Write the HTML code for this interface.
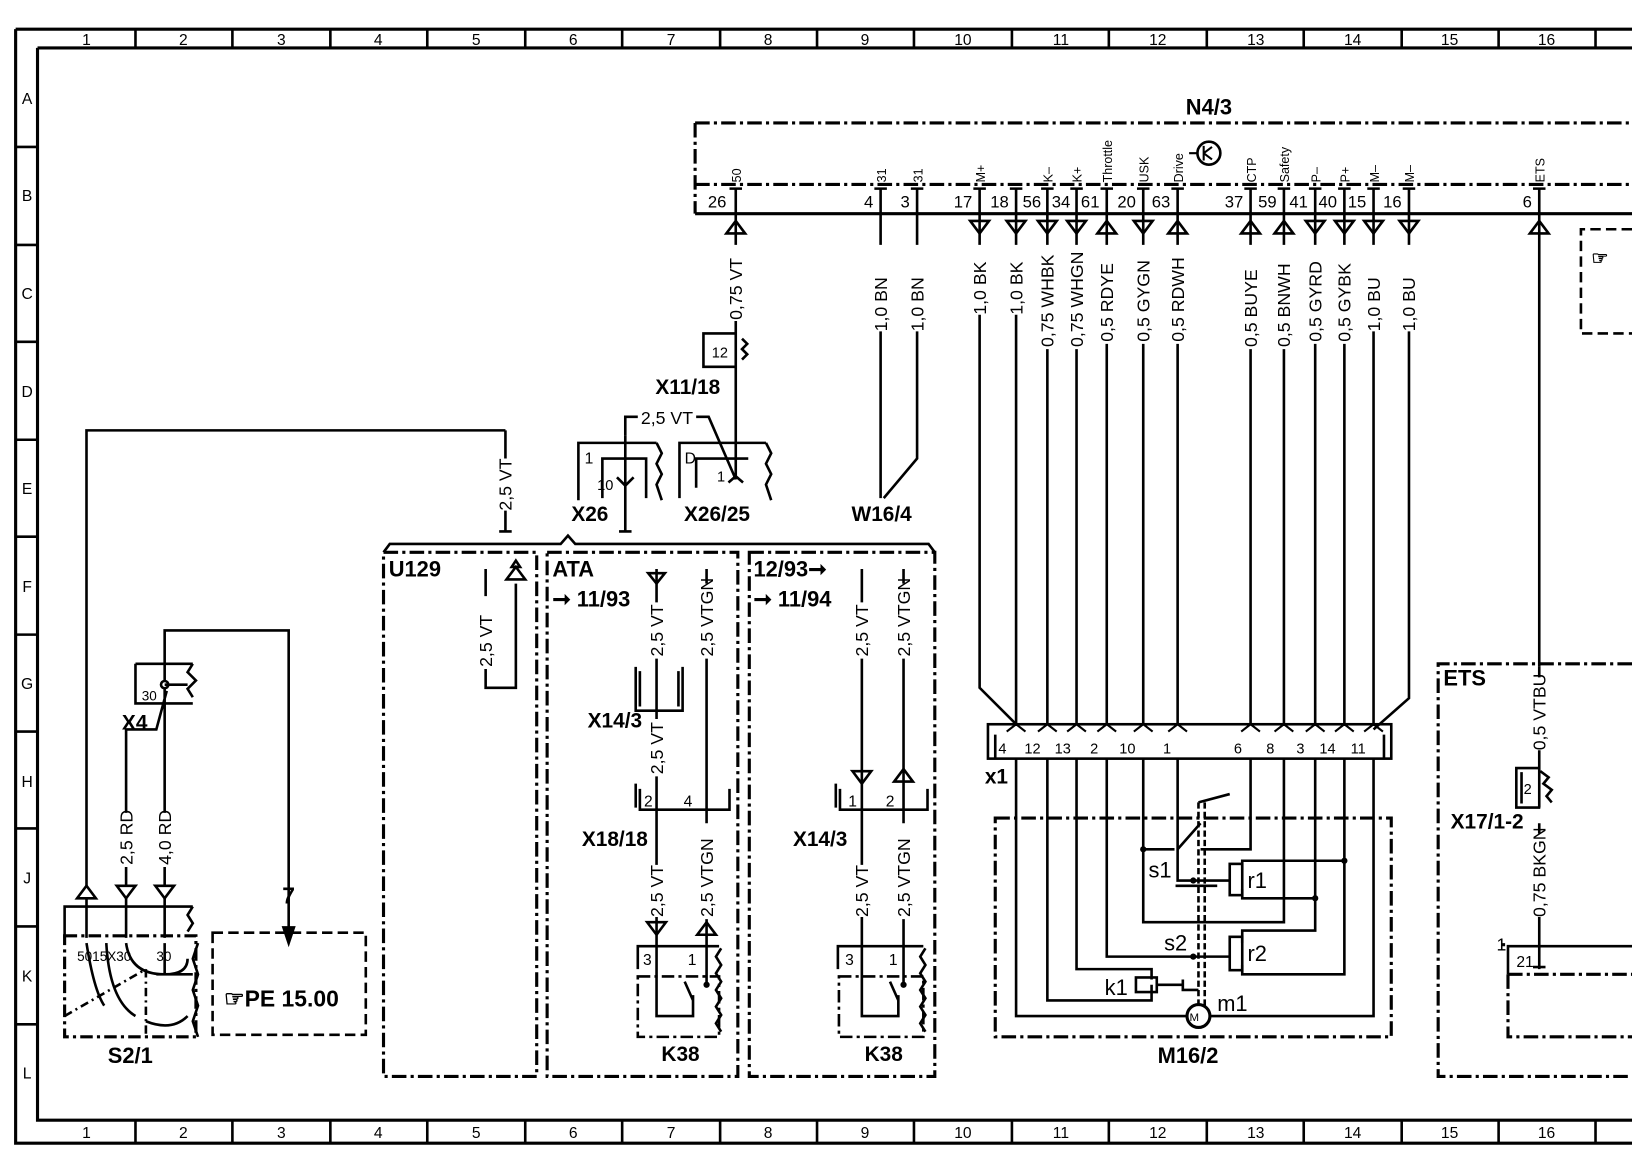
<!DOCTYPE html>
<html><head><meta charset="utf-8"><style>
html,body{margin:0;padding:0;background:#fff;width:1632px;height:1164px;overflow:hidden}
svg{display:block}
text{font-family:"Liberation Sans Narrow","Liberation Sans",sans-serif;fill:#000}
.b{font-weight:bold}
</style></head><body>
<svg width="1632" height="1164" viewBox="0 0 1566 1117" preserveAspectRatio="none" xmlns="http://www.w3.org/2000/svg">
<g fill="none" stroke="#000" stroke-width="2.5">
<path d="M15 28H1566M15 28V1097H1566M36 46H1566M36 46V1075H1566M15 1097H1566" stroke-width="3"/>
<path d="M130 28v18M223 28v18M317 28v18M410 28v18M504 28v18M597 28v18M691 28v18M784 28v18M877 28v18M971 28v18M1064 28v18M1158 28v18M1251 28v18M1345 28v18M1438 28v18M1531 28v18"/>
<path d="M130 1075v22M223 1075v22M317 1075v22M410 1075v22M504 1075v22M597 1075v22M691 1075v22M784 1075v22M877 1075v22M971 1075v22M1064 1075v22M1158 1075v22M1251 1075v22M1345 1075v22M1438 1075v22M1531 1075v22"/>
<path d="M15 141h21M15 235h21M15 328h21M15 422h21M15 515h21M15 609h21M15 702h21M15 795h21M15 889h21M15 983h21"/>
</g>
<g font-size="15" text-anchor="middle">
<text x="83" y="43">1</text><text x="176" y="43">2</text><text x="270" y="43">3</text><text x="363" y="43">4</text><text x="457" y="43">5</text><text x="550" y="43">6</text><text x="644" y="43">7</text><text x="737" y="43">8</text><text x="830" y="43">9</text><text x="924" y="43">10</text><text x="1018" y="43">11</text><text x="1111" y="43">12</text><text x="1205" y="43">13</text><text x="1298" y="43">14</text><text x="1391" y="43">15</text><text x="1484" y="43">16</text>
<text x="83" y="1092">1</text><text x="176" y="1092">2</text><text x="270" y="1092">3</text><text x="363" y="1092">4</text><text x="457" y="1092">5</text><text x="550" y="1092">6</text><text x="644" y="1092">7</text><text x="737" y="1092">8</text><text x="830" y="1092">9</text><text x="924" y="1092">10</text><text x="1018" y="1092">11</text><text x="1111" y="1092">12</text><text x="1205" y="1092">13</text><text x="1298" y="1092">14</text><text x="1391" y="1092">15</text><text x="1484" y="1092">16</text>
<text x="26" y="100">A</text><text x="26" y="193">B</text><text x="26" y="287">C</text><text x="26" y="381">D</text><text x="26" y="474">E</text><text x="26" y="568">F</text><text x="26" y="661">G</text><text x="26" y="755">H</text><text x="26" y="848">J</text><text x="26" y="942">K</text><text x="26" y="1035">L</text>
</g>

<g fill="none" stroke="#000" stroke-width="3">
<path d="M667 118H1566M667 177H1566M667 118V205" stroke-dasharray="14,4,3,4"/>
<path d="M667 205H1566"/>
<circle cx="1160" cy="147" r="11" stroke-width="2.5"/>
<path d="M1149 147h-8M1155 140v14M1155 147l8-6M1155 147l8 6" stroke-width="2"/>
</g>
<text x="1160" y="110" class="b" font-size="21" text-anchor="middle">N4/3</text>

<g stroke="#000" stroke-width="2.5" fill="none">
<path d="M700 181h12M706 181v24 M839 181h12M845 181v24 M874 181h12M880 181v24 M934 181h12M940 181v24 M969 181h12M975 181v24 M999 181h12M1005 181v24 M1027 181h12M1033 181v24 M1056 181h12M1062 181v24 M1091 181h12M1097 181v24 M1124 181h12M1130 181v24 M1194 181h12M1200 181v24 M1226 181h12M1232 181v24 M1256 181h12M1262 181v24 M1284 181h12M1290 181v24 M1312 181h12M1318 181v24 M1346 181h12M1352 181v24 M1471 181h12M1477 181v24"/>
<path d="M706 205V235 M845 205V235 M880 205V235 M940 205V235 M975 205V235 M1005 205V235 M1033 205V235 M1062 205V235 M1097 205V235 M1130 205V235 M1200 205V235 M1232 205V235 M1262 205V235 M1290 205V235 M1318 205V235 M1352 205V235 M1477 205V640"/>
<path d="M706 308V460 M845 318V478 M880 318V440L848 478 M940 302V660L975 695 M975 302V695 M1005 335V695 M1033 335V695 M1062 330V695 M1097 330V695 M1130 330V695 M1200 335V695 M1232 335V695 M1262 330V695 M1290 330V695 M1318 318V695 M1352 318V670L1318 700"/>
</g>
<g fill="none" stroke="#000" stroke-width="2.5">
<path d="M697 224l9-12 9 12z M1053 224l9-12 9 12z M1121 224l9-12 9 12z M1191 224l9-12 9 12z M1223 224l9-12 9 12z M1468 224l9-12 9 12z"/>
<path d="M931 212l9 12 9-12z M966 212l9 12 9-12z M996 212l9 12 9-12z M1024 212l9 12 9-12z M1088 212l9 12 9-12z M1253 212l9 12 9-12z M1281 212l9 12 9-12z M1309 212l9 12 9-12z M1343 212l9 12 9-12z"/>
</g>
<g font-size="16" text-anchor="end">
<text x="697" y="199">26</text><text x="838" y="199">4</text><text x="873" y="199">3</text><text x="933" y="199">17</text><text x="968" y="199">18</text><text x="999" y="199">56</text><text x="1027" y="199">34</text><text x="1055" y="199">61</text><text x="1090" y="199">20</text><text x="1123" y="199">63</text><text x="1193" y="199">37</text><text x="1225" y="199">59</text><text x="1255" y="199">41</text><text x="1283" y="199">40</text><text x="1311" y="199">15</text><text x="1345" y="199">16</text><text x="1470" y="199">6</text>
</g>
<g font-size="12">
<text transform="translate(711,175) rotate(-90)">50</text>
<text transform="translate(850,175) rotate(-90)">31</text>
<text transform="translate(885,175) rotate(-90)">31</text>
<text transform="translate(945,175) rotate(-90)">M+</text>
<text transform="translate(1010,175) rotate(-90)">K–</text>
<text transform="translate(1038,175) rotate(-90)">K+</text>
<text transform="translate(1067,175) rotate(-90)">Throttle</text>
<text transform="translate(1102,175) rotate(-90)">USK</text>
<text transform="translate(1135,175) rotate(-90)">Drive</text>
<text transform="translate(1205,175) rotate(-90)">CTP</text>
<text transform="translate(1237,175) rotate(-90)">Safety</text>
<text transform="translate(1267,175) rotate(-90)">P–</text>
<text transform="translate(1295,175) rotate(-90)">P+</text>
<text transform="translate(1323,175) rotate(-90)">M–</text>
<text transform="translate(1357,175) rotate(-90)">M–</text>
<text transform="translate(1482,175) rotate(-90)">ETS</text>
</g>
<g font-size="17">
<text transform="translate(712,307) rotate(-90)">0,75 VT</text>
<text transform="translate(851,318) rotate(-90)">1,0 BN</text>
<text transform="translate(886,318) rotate(-90)">1,0 BN</text>
<text transform="translate(946,302) rotate(-90)">1,0 BK</text>
<text transform="translate(981,302) rotate(-90)">1,0 BK</text>
<text transform="translate(1011,333) rotate(-90)">0,75 WHBK</text>
<text transform="translate(1039,333) rotate(-90)">0,75 WHGN</text>
<text transform="translate(1068,328) rotate(-90)">0,5 RDYE</text>
<text transform="translate(1103,328) rotate(-90)">0,5 GYGN</text>
<text transform="translate(1136,328) rotate(-90)">0,5 RDWH</text>
<text transform="translate(1206,333) rotate(-90)">0,5 BUYE</text>
<text transform="translate(1238,333) rotate(-90)">0,5 BNWH</text>
<text transform="translate(1268,328) rotate(-90)">0,5 GYRD</text>
<text transform="translate(1296,328) rotate(-90)">0,5 GYBK</text>
<text transform="translate(1324,318) rotate(-90)">1,0 BU</text>
<text transform="translate(1358,318) rotate(-90)">1,0 BU</text>
</g>

<path d="M1566 220H1517V320H1566" fill="none" stroke="#000" stroke-width="2.5" stroke-dasharray="10,5"/>
<text x="1527" y="254" font-size="18" class="b">☞</text>

<g fill="none" stroke="#000" stroke-width="2.5">
<path d="M705 320H675V352H705"/>
<path d="M712 325l5 5-5 5 5 5-5 5"/>
<path d="M600 418V400H612M668 400H680L706 460"/>
<path d="M600 418V510h-6M600 510h6"/>
<path d="M555 480V425H630M578 478V440H620V478M630 425l5 10-5 10 5 10-5 10 5 15"/>
<path d="M592 458l8 8 8-8" />
<path d="M652 478V425H735M668 468V440H718M735 425l5 10-5 10 5 10-5 10 5 15"/>
<path d="M699 463l7-6 7 6"/>
<path d="M485 413V440M485 490V510h-6M485 510h6M83 850V413H485"/>
</g>
<text x="683" y="343" font-size="14">12</text>
<text x="660" y="378" class="b" font-size="20" text-anchor="middle">X11/18</text>
<text x="640" y="407" font-size="17" text-anchor="middle">2,5  VT</text>
<text x="561" y="445" font-size="15">1</text><text x="573" y="470" font-size="14">10</text>
<text x="657" y="445" font-size="15">D</text><text x="688" y="462" font-size="14">1</text>
<text x="566" y="500" class="b" font-size="20" text-anchor="middle">X26</text>
<text x="688" y="500" class="b" font-size="20" text-anchor="middle">X26/25</text>
<text x="846" y="500" class="b" font-size="20" text-anchor="middle">W16/4</text>
<text transform="translate(491,490) rotate(-90)" font-size="17">2,5  VT</text>

<g fill="none" stroke="#000" stroke-width="2.5">
<path d="M368 530l6-8H538l7-8 7 8H891l6 8"/>
<g stroke-dasharray="14,4,3,4" stroke-width="3">
<rect x="368" y="530" width="147" height="503"/>
<rect x="525" y="530" width="183" height="503"/>
<rect x="719" y="530" width="178" height="503"/>
</g>
<!-- U129 -->
<path d="M466 546V572M466 642V660H495V560M486 556l9-12 9 12zM495 538l-4 6h8z"/>
<!-- ATA wires -->
<path d="M630 546V578M630 632V690M630 745V830M630 880V975H665V955M665 960l-8-18"/>
<path d="M622 550l8 10 8-10z"/>
<path d="M678 546V560M678 632V790M678 882V945"/>
<path d="M610 640V682H655V640M614 644V678M651 644V678"/>
<!-- 12/93 wires -->
<path d="M827 546V578M827 632V830M827 880V975H862V955M862 960l-8-18"/>
<path d="M867 546V560M867 632V790M867 882V945"/>
<path d="M818 740l9 12 9-12z M858 750l9-12 9 12z"/>
<path d="M614 757V777H700V757M610 752V775"/>
<path d="M806 757V777H890V757M802 752V775"/>
<path d="M621 885l9 12 9-12z M669 897l9-12 9 12z"/>
<path d="M612 930V908H690M804 930V908H886"/>
<g stroke-dasharray="12,4,3,4"><rect x="612" y="937" width="78" height="58"/><rect x="805" y="937" width="81" height="58"/></g>
<path d="M692 910l-5 8 5 8-5 8 5 8 -5 8 5 8-5 8 5 8-5 8 5 8"/>
<path d="M888 910l-5 8 5 8-5 8 5 8 -5 8 5 8-5 8 5 8-5 8 5 8"/>
</g>
<g fill="#000"><circle cx="678" cy="945" r="3"/><circle cx="867" cy="945" r="3"/></g>
<text x="373" y="553" class="b" font-size="21">U129</text>
<text x="530" y="553" class="b" font-size="21">ATA</text>
<text x="530" y="582" class="b" font-size="21">➞ 11/93</text>
<text x="723" y="553" class="b" font-size="21">12/93➞</text>
<text x="723" y="582" class="b" font-size="21">➞ 11/94</text>
<g font-size="17">
<text transform="translate(472,640) rotate(-90)">2,5  VT</text>
<text transform="translate(636,630) rotate(-90)">2,5  VT</text>
<text transform="translate(684,630) rotate(-90)">2,5  VTGN</text>
<text transform="translate(833,630) rotate(-90)">2,5  VT</text>
<text transform="translate(873,630) rotate(-90)">2,5  VTGN</text>
<text transform="translate(636,743) rotate(-90)">2,5  VT</text>
<text transform="translate(684,880) rotate(-90)">2,5  VTGN</text>
<text transform="translate(873,880) rotate(-90)">2,5  VTGN</text>
<text transform="translate(636,880) rotate(-90)">2,5  VT</text>
<text transform="translate(833,880) rotate(-90)">2,5  VT</text>
</g>
<g font-size="15"><text x="618" y="774">2</text><text x="656" y="774">4</text><text x="814" y="774">1</text><text x="850" y="774">2</text>
<text x="617" y="926">3</text><text x="660" y="926">1</text><text x="811" y="926">3</text><text x="853" y="926">1</text></g>
<g class="b" font-size="20" text-anchor="middle">
<text x="590" y="698">X14/3</text><text x="590" y="812">X18/18</text><text x="787" y="812">X14/3</text>
<text x="653" y="1018">K38</text><text x="848" y="1018">K38</text></g>

<g fill="none" stroke="#000" stroke-width="2.5">
<path d="M130 637H185M130 637V675H185M185 637l-5 8 8 8-8 8 5 8"/>
<circle cx="158" cy="657" r="3.5" fill="#fff"/>
<path d="M158 653V605H277V890M158 661V780M158 832V850M160 663L150 700H121V780M121 832V850M158 657H180"/>
<path d="M272 890l5 15 5-15z" fill="#000"/>
<path d="M74 862l9-12 9 12z M112 850l9 12 9-12z M149 850l9 12 9-12z"/>
<path d="M62 900V870H185M83 862V900M121 862V900M158 862V900M185 870l-5 8 5 8-5 8"/>
<path d="M190 905l-5 15 5 15-5 15 5 15-5 15 5 15"/>
<path d="M83 905Q90 950 100 965M102 905Q105 960 130 975M121 905Q125 935 158 935Q180 935 180 920M158 905V935M150 935H185M140 980Q165 990 180 975"/>
<path d="M62 975L140 930" stroke-dasharray="8,4,2,4"/>
<path d="M140 930V995" stroke-dasharray="8,4,2,4"/>
<rect x="62" y="898" width="126" height="97" stroke-dasharray="12,4,3,4" stroke-width="3"/>
<rect x="204" y="895" width="147" height="98" stroke-dasharray="10,5"/>
</g>
<text x="136" y="672" font-size="13">30</text>
<text x="117" y="700" class="b" font-size="20">X4</text>
<text transform="translate(127,830) rotate(-90)" font-size="17">2,5  RD</text>
<text transform="translate(164,830) rotate(-90)" font-size="17">4,0  RD</text>
<text x="277" y="867" class="b" font-size="22" text-anchor="middle">7</text>
<text x="74" y="922" font-size="13">5015X30</text><text x="150" y="922" font-size="13">30</text>
<text x="125" y="1020" class="b" font-size="21" text-anchor="middle">S2/1</text>
<text x="215" y="966" class="b" font-size="22">☞PE  15.00</text>

<g fill="none" stroke="#000" stroke-width="2.5">
<rect x="948" y="695" width="387" height="33"/>
<path d="M955 728V705M1328 728V705"/>
<path d="M966 702l9-7 9 7M996 702l9-7 9 7M1024 702l9-7 9 7M1053 702l9-7 9 7M1088 702l9-7 9 7M1121 702l9-7 9 7M1191 702l9-7 9 7M1223 702l9-7 9 7M1253 702l9-7 9 7M1281 702l9-7 9 7M1309 702l9-7 9 7" stroke-width="2"/>
<rect x="955" y="785" width="380" height="210" stroke-dasharray="14,4,3,4" stroke-width="3"/>
<path d="M975 728V975H1138M1162 975H1318V728"/>
<path d="M1005 728V960H1105V945"/>
<path d="M1033 728V930H1105V940"/>
<rect x="1090" y="938" width="20" height="14"/>
<path d="M1110 945h25M1135 940v10h15" />
<path d="M1062 728V918H1180"/>
<rect x="1180" y="899" width="12" height="32"/>
<path d="M1192 905V893H1262V728M1192 926V935H1290V728"/>
<path d="M1097 728V815H1127M1152 815H1200V728"/>
<path d="M1130 728V845H1180"/>
<rect x="1180" y="829" width="12" height="30"/>
<path d="M1192 835V826H1290M1192 853V862H1262"/>
<path d="M1097 815V885H1150H1232V728"/>
<path d="M1150 770V965M1156 770V965" stroke-dasharray="6,3"/>
<path d="M1150 770l30-8M1128 850h40M1130 815l22 -25"/>
<circle cx="1150" cy="975" r="11" stroke-width="3"/>
</g>
<g fill="#000"><circle cx="1097" cy="815" r="3"/><circle cx="1290" cy="826" r="3"/><circle cx="1262" cy="862" r="3"/><circle cx="1145" cy="845" r="3"/><circle cx="1145" cy="918" r="3"/></g>
<g font-size="14"><text x="958" y="723">4</text><text x="983" y="723">12</text><text x="1012" y="723">13</text><text x="1046" y="723">2</text><text x="1074" y="723">10</text><text x="1116" y="723">1</text><text x="1184" y="723">6</text><text x="1215" y="723">8</text><text x="1244" y="723">3</text><text x="1266" y="723">14</text><text x="1296" y="723">11</text></g>
<text x="945" y="752" class="b" font-size="20">x1</text>
<g font-size="21"><text x="1102" y="842">s1</text><text x="1197" y="852">r1</text><text x="1117" y="912">s2</text><text x="1197" y="922">r2</text><text x="1060" y="955">k1</text><text x="1168" y="970">m1</text></g>
<text x="1146" y="980" font-size="11" text-anchor="middle">M</text>
<text x="1140" y="1020" class="b" font-size="21" text-anchor="middle">M16/2</text>

<g fill="none" stroke="#000" stroke-width="2.5">
<path d="M1566 637H1380V1033H1566" stroke-dasharray="14,4,3,4" stroke-width="3"/>
<path d="M1477 640V650M1477 720V775M1477 790V800M1477 880V930"/>
<path d="M1478 737H1455V775H1478M1460 741V771M1478 740l8 6-5 6 8 6-5 6 5 6"/>
<path d="M1447 935V908H1566M1443 908V905"/>
<path d="M1447 935H1566M1447 935V995H1566" stroke-dasharray="14,4,3,4" stroke-width="3"/>
<path d="M1471 928h12"/>
</g>
<text x="1385" y="658" class="b" font-size="21">ETS</text>
<text transform="translate(1483,720) rotate(-90)" font-size="17">0,5  VTBU</text>
<text transform="translate(1483,880) rotate(-90)" font-size="17">0,75  BKGN</text>
<text x="1462" y="762" font-size="14">2</text>
<text x="1427" y="795" class="b" font-size="20" text-anchor="middle">X17/1-2</text>
<text x="1436" y="912" font-size="17">1</text><text x="1455" y="928" font-size="15">21</text>
</svg>
</body></html>
